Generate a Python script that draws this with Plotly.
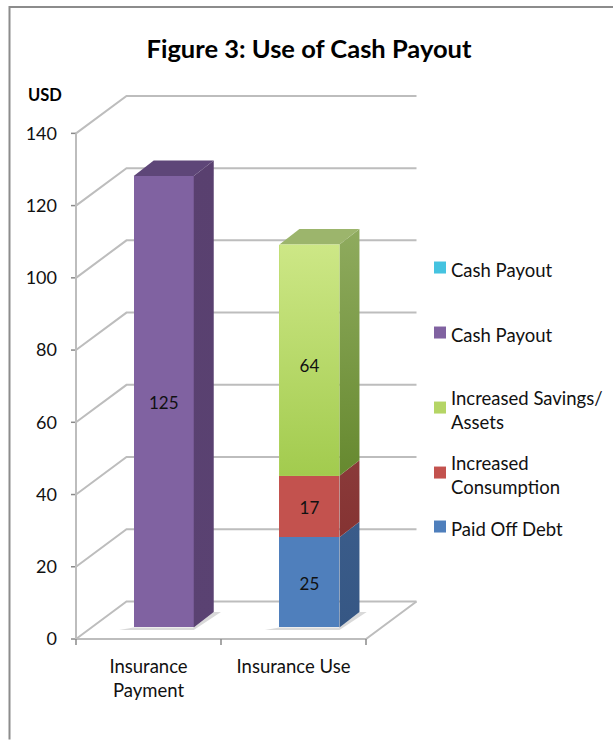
import plotly.graph_objects as go

# ---- data ----
categories = ["Insurance<br>Payment", "Insurance Use"]
cash_payout_empty = [0, 0]
cash_payout = [125, 0]
paid_off_debt = [0, 25]
increased_consumption = [0, 17]
increased_savings = [0, 64]
y_ticks = [0, 20, 40, 60, 80, 100, 120, 140]

# ---- geometry in axis units ----
W, H = 613, 740
PX_X = 145.0       # pixels per category
PX_Y = 3.615       # pixels per USD
X0, Y0 = 76, 639.5 # pixel of origin
PAD = 8
DEPTH_X = 50.5 / PX_X
DEPTH_Y = 37.5 / PX_Y
BAR_X = [0.605, 1.61]
BAR_W = 0.414
BAR_BASE = 3.2
SIDE_X = 20 / PX_X
SIDE_Y = 15.5 / PX_Y
LABEL_DROP = 3.5 / PX_Y
FONT = "Lato"
TXT = "#111111"

fig = go.Figure()


def add_bar(name, values, base, color, legend):
    fig.add_trace(go.Bar(x=BAR_X, y=values, base=base, width=BAR_W, name=name,
                         marker=dict(color=color, line=dict(width=0)),
                         legend=legend, hoverinfo="skip"))


def poly(xs, ys, c_top, c_bottom):
    fig.add_trace(go.Scatter(x=xs, y=ys, mode="lines", fill="toself", showlegend=False,
                             line=dict(width=0), hoverinfo="skip",
                             fillgradient=dict(type="vertical",
                                               colorscale=[[0, c_bottom], [1, c_top]])))


def faces(i, lo, hi, side_top, side_bottom, top=None):
    l = BAR_X[i] - BAR_W / 2
    r = BAR_X[i] + BAR_W / 2
    poly([r, r + SIDE_X, r + SIDE_X, r, r], [lo, lo + SIDE_Y, hi + SIDE_Y, hi, lo], side_top, side_bottom)
    if top:
        poly([l, l + SIDE_X, r + SIDE_X, r, l], [hi, hi + SIDE_Y, hi + SIDE_Y, hi, hi], top, top)


# legend-only empty series, then stacks
add_bar("Cash Payout", cash_payout_empty, [BAR_BASE, BAR_BASE], "#45C3E0", "legend")
add_bar("Cash Payout", cash_payout, [BAR_BASE, BAR_BASE], "#8062A1", "legend2")

b1 = BAR_BASE + paid_off_debt[1]
b2 = b1 + increased_consumption[1]
b3 = b2 + increased_savings[1]
add_bar("Increased Savings/<br>Assets", increased_savings, [b2, b2], "#B5D565", "legend3")
add_bar("Increased<br>Consumption", increased_consumption, [b1, b1], "#C3524E", "legend4")
add_bar("Paid Off Debt", paid_off_debt, [BAR_BASE, BAR_BASE], "#4F7FBC", "legend5")

# purple
p_top = BAR_BASE + cash_payout[0]
faces(0, BAR_BASE, p_top, "#59406F", "#5A4272", "#5E4678")
# stack
faces(1, BAR_BASE, b1, "#3A5C8A", "#365784")
faces(1, b1, b2, "#8A3A3A", "#853332")
faces(1, b2, b3, "#8FAB5E", "#66892F", "#9CB56C")
# gradient on the green front
gl = BAR_X[1] - BAR_W / 2
gr = BAR_X[1] + BAR_W / 2
poly([gl, gr, gr, gl, gl], [b2, b2, b3, b3, b2], "#CDE786", "#A2CB4E")

# value labels
fig.add_trace(go.Scatter(
    x=[BAR_X[0], BAR_X[1], BAR_X[1], BAR_X[1]],
    y=[BAR_BASE + cash_payout[0] / 2 - LABEL_DROP, BAR_BASE + paid_off_debt[1] / 2 - LABEL_DROP,
       b1 + increased_consumption[1] / 2 - LABEL_DROP, b2 + increased_savings[1] / 2 - 1 - LABEL_DROP],
    text=[cash_payout[0], paid_off_debt[1], increased_consumption[1], increased_savings[1]],
    mode="text", textfont=dict(family=FONT, size=17, color=TXT), showlegend=False, hoverinfo="skip"))

# ---- wall / floor lines ----
shapes = []
GRID = dict(color="#BDBDBD", width=2)
x_end = len(categories)
for v in y_ticks:
    shapes.append(dict(type="path", layer="below", xref="x", yref="y", line=GRID,
                       path=f"M 0 {v} L {DEPTH_X} {v + DEPTH_Y} L {x_end + DEPTH_X} {v + DEPTH_Y}"))
    shapes.append(dict(type="line", layer="below", xref="x", yref="y", line=dict(color="#8A8A8A", width=1.5),
                       x0=-5 / PX_X, x1=0, y0=v, y1=v))
shapes.append(dict(type="line", layer="below", xref="x", yref="y", line=GRID, x0=0, x1=0, y0=0, y1=y_ticks[-1]))
shapes.append(dict(type="path", layer="below", xref="x", yref="y", line=GRID,
                   path=f"M 0 0 L {x_end} 0 L {x_end + DEPTH_X} {DEPTH_Y}"))
for i in range(x_end + 1):
    shapes.append(dict(type="line", layer="below", xref="x", yref="y", line=dict(color="#8A8A8A", width=1.5),
                       x0=i, x1=i, y0=0, y1=-6 / PX_Y))
# soft shadows under the bars
for cx in BAR_X:
    l = cx - BAR_W / 2
    r = cx + BAR_W / 2
    shapes.append(dict(type="path", layer="below", xref="x", yref="y", line=dict(width=0),
                       fillcolor="rgba(120,120,120,0.28)",
                       path=(f"M {l - 0.1} {BAR_BASE - 0.7} L {r} {BAR_BASE - 0.7} "
                             f"L {r + SIDE_X + 0.05} {BAR_BASE + SIDE_Y} L {r + SIDE_X} {BAR_BASE + SIDE_Y} "
                             f"L {r} {BAR_BASE} L {l} {BAR_BASE} Z")))

# ---- outer frame (paper coordinates) ----
l_m, r_m = X0 - PAD, W - 417 - PAD
t_m, b_m = 95 - PAD, H - Y0 - 11
plot_w = W - l_m - r_m
plot_h = H - t_m - b_m
px = lambda p: (p - l_m) / plot_w
py = lambda p: 1 - (p - t_m) / plot_h
shapes.append(dict(type="path", xref="paper", yref="paper", line=dict(color="#8C8C8C", width=2),
                   path=f"M {px(9.5)} {py(740)} L {px(9.5)} {py(7)} L {px(613)} {py(7)}"))

legend_common = dict(xref="container", yref="container", x=411 / W, xanchor="left", yanchor="top",
                     bgcolor="rgba(0,0,0,0)", font=dict(family=FONT, size=18.5, color=TXT), itemclick=False)

fig.update_layout(
    width=W, height=H, barmode="overlay", bargap=0,
    margin=dict(l=l_m, r=r_m, t=t_m, b=b_m, autoexpand=False),
    paper_bgcolor="white", plot_bgcolor="white",
    font=dict(family=FONT, size=18, color=TXT),
    title=dict(text="<b>Figure 3: Use of Cash Payout</b>", x=309 / W, xanchor="center",
               y=1 - 49.5 / H, yanchor="middle", font=dict(family=FONT, size=25.5, color="#000000")),
    xaxis=dict(range=[-PAD / PX_X, (417 + PAD - X0) / PX_X], tickmode="array",
               tickvals=[0.5, 1.5], ticktext=categories, ticks="", showgrid=False, zeroline=False,
               showline=False, ticklabelstandoff=3, tickfont=dict(family=FONT, size=18.5, color=TXT)),
    yaxis=dict(range=[-11 / PX_Y, (Y0 - 95 + PAD) / PX_Y], tickmode="array", tickvals=y_ticks,
               ticks="", showgrid=False, zeroline=False, showline=False, ticklabelstandoff=10,
               tickfont=dict(family=FONT, size=18, color=TXT)),
    shapes=shapes,
    annotations=[dict(text="<b>USD</b>", xref="paper", yref="paper", x=px(45), y=py(95),
                      xanchor="center", yanchor="middle", showarrow=False,
                      font=dict(family=FONT, size=16.5, color="#000000"))],
    legend=dict(y=1 - 251 / H, **legend_common),
    legend2=dict(y=1 - 316 / H, **legend_common),
    legend3=dict(y=1 - 379 / H, **legend_common),
    legend4=dict(y=1 - 444 / H, **legend_common),
    legend5=dict(y=1 - 510 / H, **legend_common),
)

fig.write_html("out.html", config=dict(displayModeBar=False),
               post_script=("document.body.style.margin='0';"
                            "document.querySelectorAll('.legendsymbols').forEach("
                            "e=>e.setAttribute('transform','translate(9,-2)'));"))
